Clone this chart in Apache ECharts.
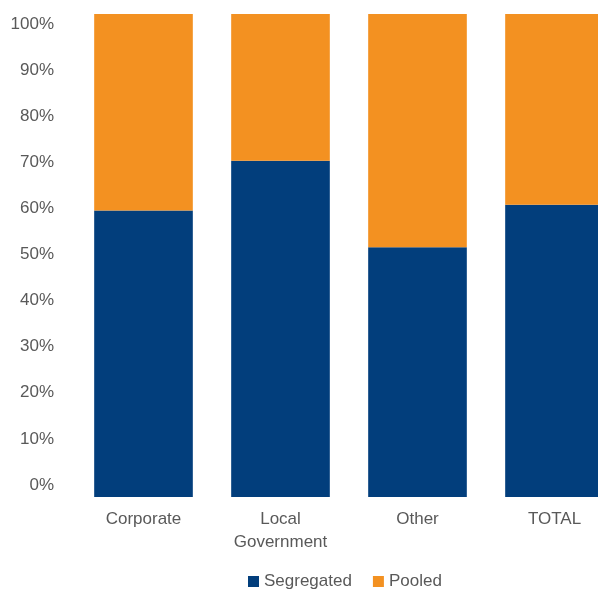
<!DOCTYPE html>
<html>
<head>
<meta charset="utf-8">
<script src="https://cdn.jsdelivr.net/npm/echarts@6/dist/echarts.min.js"></script>
<style>
  html, body { margin: 0; padding: 0; background: #fff; }
  #chart { width: 598px; height: 590px; }
</style>
</head>
<body>
<div id="chart"></div>
<script>
// categories and shares (percent of total)
const categories = ['Corporate', 'Local\nGovernment', 'Other', 'TOTAL'];
const segregated = [59.3, 69.6, 51.7, 60.5];
const pooled = [40.7, 30.4, 48.3, 39.5];
const seriesNames = ['Segregated', 'Pooled'];

const blue = '#023e7c';
const orange = '#f39121';
const textColor = '#595959';
const font = 'Liberation Sans';

var dom = document.getElementById('chart');
var myChart = echarts.init(dom, null, { renderer: 'canvas' });

var option = {
  animation: false,
  textStyle: { fontFamily: font },
  legend: {
    data: seriesNames,
    bottom: -5,
    left: 243,
    itemWidth: 11,
    itemHeight: 11,
    itemGap: 21,
    icon: 'rect',
    textStyle: { fontSize: 17, color: textColor, fontFamily: font }
  },
  grid: [
    // bars (last one runs off the right edge, as in the original)
    { left: 75, width: 548, top: 14, bottom: 93, outerBoundsMode: 'none' },
    // tick labels sit a little inside the bars' extent in the original
    { left: 75, width: 548, top: 24, bottom: 105, outerBoundsMode: 'none' }
  ],
  xAxis: [
    {
      gridIndex: 0,
      type: 'category',
      data: categories,
      axisLine: { show: false },
      axisTick: { show: false },
      axisLabel: {
        color: textColor,
        fontSize: 17,
        lineHeight: 23,
        margin: 11,
        fontFamily: font
      }
    },
    {
      gridIndex: 1,
      type: 'category',
      data: categories,
      show: false
    }
  ],
  yAxis: [
    {
      gridIndex: 0,
      type: 'value',
      min: 0,
      max: 100,
      show: false,
      splitLine: { show: false }
    },
    {
      gridIndex: 1,
      type: 'value',
      min: 0,
      max: 100,
      interval: 10,
      axisLine: { show: false },
      axisTick: { show: false },
      splitLine: { show: false },
      axisLabel: {
        formatter: '{value}%',
        color: textColor,
        fontSize: 17,
        margin: 21,
        fontFamily: font
      }
    }
  ],
  series: [
    {
      name: seriesNames[0],
      type: 'bar',
      stack: 'total',
      xAxisIndex: 0,
      yAxisIndex: 0,
      barCategoryGap: '28%',
      data: segregated,
      itemStyle: { color: blue }
    },
    {
      name: seriesNames[1],
      type: 'bar',
      stack: 'total',
      xAxisIndex: 0,
      yAxisIndex: 0,
      barCategoryGap: '28%',
      data: pooled,
      itemStyle: { color: orange }
    }
  ]
};

myChart.setOption(option);
window.addEventListener('resize', myChart.resize);
</script>
</body>
</html>
